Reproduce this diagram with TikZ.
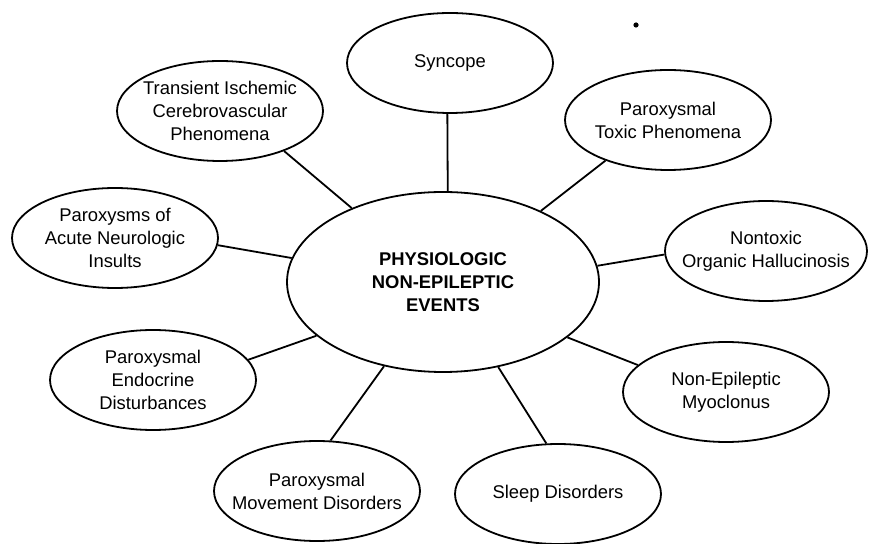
\documentclass[tikz,border=0pt]{standalone}
\usepackage{fontspec}
\setmainfont{Liberation Sans}
\usetikzlibrary{shapes.geometric}
\begin{document}
\begin{tikzpicture}
    [
        x=0.5pt, y=-0.5pt,
        event/.style={ellipse, draw, line width=0.9pt, minimum width=103pt,
            minimum height=50pt, inner xsep=-12pt, inner ysep=0pt,
            align=center, font=\fontsize{9.2}{11.5}\selectfont},
        hub/.style={event, minimum width=156pt, minimum height=90pt,
            font=\fontsize{9.2}{11.5}\selectfont\bfseries},
        link/.style={line width=0.9pt},
    ]
    \useasboundingbox (0,0) rectangle (871,544);
    \node (hub) at (443, 282) [hub] {PHYSIOLOGIC\\NON-EPILEPTIC\\EVENTS};

    \node (syncope) at (450, 63) [event] {Syncope};
    \node (tia) at (220, 111) [event] {Transient Ischemic\\Cerebrovascular\\Phenomena};
    \node (toxic) at (668, 120) [event] {Paroxysmal\\Toxic Phenomena};
    \node (acute) at (115, 238) [event] {Paroxysms of\\Acute Neurologic\\Insults};
    \node (halluc) at (766, 251) [event, minimum width=101pt] {Nontoxic\\Organic Hallucinosis};
    \node (endo) at (153, 380) [event] {Paroxysmal\\Endocrine\\Disturbances};
    \node (myoc) at (726, 392) [event] {Non-Epileptic\\Myoclonus};
    \node (move) at (317, 491) [event] {Paroxysmal\\Movement Disorders};
    \node (sleep) at (558, 494) [event] {Sleep Disorders};

    \draw[link] (hub.87) -- (syncope.-93);
    \draw[link] (hub.141) -- (tia.-32);
    \draw[link] (hub.36) -- (toxic.213);
    \draw[link] (hub.171) -- (acute.-4);
    \draw[link] (hub.6) -- (halluc.182);
    \draw[link] (hub.203) -- (endo.12);
    \draw[link] (hub.-24) -- (myoc.163);
    \draw[link] (hub.235) -- (move.75);
    \draw[link] (hub.-57) -- (sleep.103);

    % speck on the scan
    \fill (636, 25) circle (1.3pt);
\end{tikzpicture}
\end{document}
